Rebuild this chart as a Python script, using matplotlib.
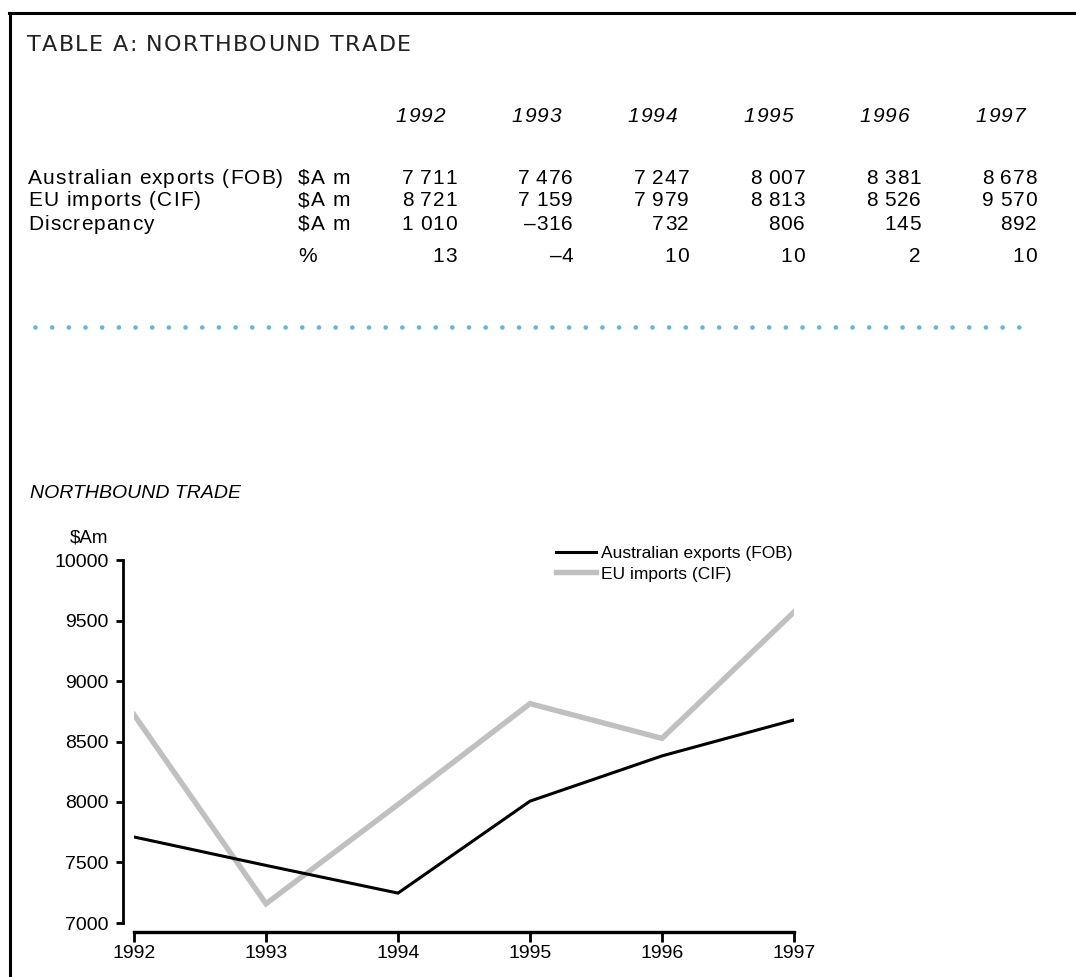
import matplotlib
matplotlib.use("Agg")
import matplotlib.pyplot as plt
from matplotlib.lines import Line2D
from matplotlib.font_manager import FontProperties

# data
years = [1992, 1993, 1994, 1995, 1996, 1997]
exports_fob = [7711, 7476, 7247, 8007, 8381, 8678]
imports_cif = [8721, 7159, 7979, 8813, 8526, 9570]
discrepancy = [1010, -316, 732, 806, 145, 892]
discrepancy_pct = [13, -4, 10, 10, 2, 10]
row_labels = ["Australian exports (FOB)", "EU imports (CIF)", "Discrepancy", ""]
row_units = ["$A m", "$A m", "$A m", "%"]
y_ticks = [7000, 7500, 8000, 8500, 9000, 9500, 10000]
table_title = "TABLE A: NORTHBOUND TRADE"

W, H = 1076, 977
SANS = ["Liberation Sans", "DejaVu Sans"]


def fx(px):
    return px / W


def fy(py):
    return 1 - py / H


def fmt(v):
    s = f"{abs(v):,}".replace(",", "\u2009")
    return ("\u2013" + s) if v < 0 else s


fig = plt.figure(figsize=(W / 100, H / 100), dpi=100)
renderer = fig.canvas.get_renderer()


def tracked(x, y, s, tracking, ha="left", size=15, family=SANS, style="normal",
            color="black"):
    # letter-spaced text: advance of each glyph measured between two bars
    fp = FontProperties(family=family, size=size, style=style)
    base = renderer.get_text_width_height_descent("||", fp, False)[0]
    adv = [renderer.get_text_width_height_descent("|" + c + "|", fp, False)[0] - base
           for c in s]
    gaps = [0 if c == "\u2013" else tracking for c in s]
    total = sum(adv) + sum(gaps[:-1])
    if ha == "right":
        x -= total
    for c, a, g in zip(s, adv, gaps):
        if not c.isspace():
            fig.text(fx(x), fy(y), c, fontproperties=fp, ha="left", va="center",
                     color=color)
        x += a + g


# frame (top and left rules)
fig.add_artist(Line2D([fx(9.5), fx(9.5)], [0, fy(13)], color="black", lw=2.2))
fig.add_artist(Line2D([fx(8.5), 1], [fy(13), fy(13)], color="black", lw=2.2))

# ---- table ----
tracked(27, 45, table_title, 1.3, size=16, family="DejaVu Sans", color="#222222")

col_right = [457 + 116 * i for i in range(len(years))]
for i, yr in enumerate(years):
    tracked(col_right[i] - 12, 117, str(yr), 1.0, ha="right", size=15, style="italic")

row_y = [178, 201, 224, 256]
rows = [exports_fob, imports_cif, discrepancy, discrepancy_pct]
for r, vals in enumerate(rows):
    tracked(28, row_y[r], row_labels[r], 1.1)
    tracked(298, row_y[r], row_units[r], 1.1)
    for i, v in enumerate(vals):
        tracked(col_right[i], row_y[r], fmt(v), 1.1, ha="right")

# dotted separator
fig.add_artist(Line2D([fx(35), fx(1022)], [fy(327), fy(327)], color="#6db3d6",
                      lw=3.4, ls=(0, (0.001, 3.53)), dash_capstyle="round"))

# ---- chart ----
fig.text(fx(30), fy(494), "NORTHBOUND TRADE", fontsize=14, style="italic",
         family=SANS, ha="left", va="center")
fig.text(fx(108), fy(538), "$Am", fontsize=13.5, family=SANS, ha="right", va="center")

ax = fig.add_axes([fx(134), fy(923), fx(794) - fx(134), fy(560) - fy(923)])
ax.plot(years, imports_cif, color="#c0c0c0", lw=3.9, label="EU imports (CIF)",
        solid_joinstyle="miter")
ax.plot(years, exports_fob, color="black", lw=2.2, label="Australian exports (FOB)",
        solid_joinstyle="miter")
ax.set_xlim(years[0], years[-1])
ax.set_ylim(y_ticks[0], y_ticks[-1])

for side in ["top", "right"]:
    ax.spines[side].set_visible(False)
ax.spines["left"].set_position(("outward", 8))
ax.spines["bottom"].set_position(("outward", 6.5))
ax.spines["left"].set_linewidth(2)
ax.spines["bottom"].set_linewidth(2.4)

# tick labels are set after the spine offsets (moving a spine resets ticks)
ax.set_xticks(years)
ax.set_yticks(y_ticks)
ax.set_xticklabels([str(y) for y in years])
ax.set_yticklabels([str(t) for t in y_ticks])
ax.tick_params(axis="both", labelsize=14, labelfontfamily="Liberation Sans")
ax.tick_params(axis="y", direction="out", length=5, width=2, pad=5)
ax.tick_params(axis="x", direction="out", length=7, width=2, pad=2)

handles, labels = ax.get_legend_handles_labels()
ax.legend(handles[::-1], labels[::-1], loc="upper left",
          bbox_to_anchor=(fx(556), fy(546)), bbox_transform=fig.transFigure,
          frameon=False, prop={"family": SANS, "size": 12.5},
          handlelength=2.3, handletextpad=0.3, labelspacing=0.3,
          borderpad=0, borderaxespad=0)

fig.savefig("out.png", dpi=100)
